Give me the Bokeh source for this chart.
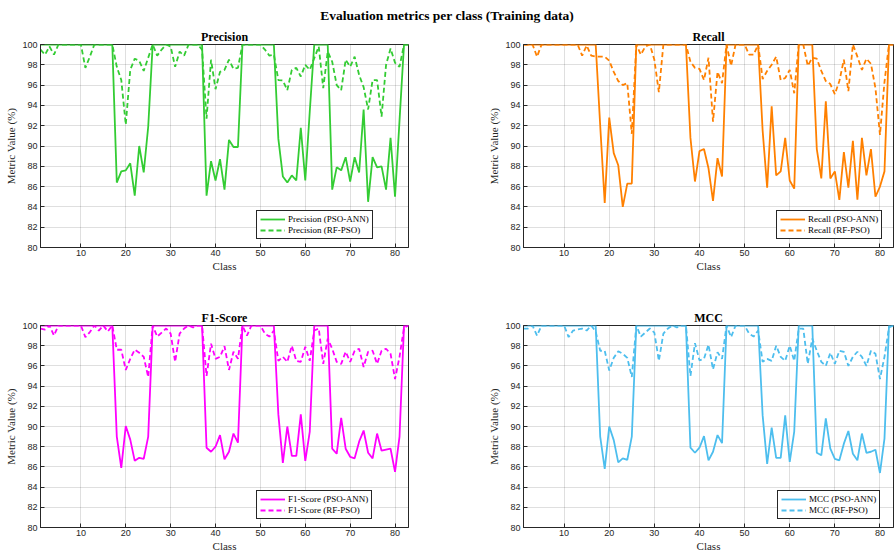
from bokeh.plotting import figure
from bokeh.models import Range1d, FixedTicker, Legend, LegendItem, Div
from bokeh.layouts import column, row
from bokeh.embed import file_html
from bokeh.resources import INLINE

classes = list(range(1, 84))
x_ticks = [10, 20, 30, 40, 50, 60, 70, 80]
y_ticks = [80, 82, 84, 86, 88, 90, 92, 94, 96, 98, 100]

prec_ann = [100]*17 + [86.4, 87.5, 87.6, 88.3, 85.1, 90.0, 87.4, 91.9] + [100]*12 + \
    [85.1, 88.5, 86.6, 88.7, 85.7, 90.6, 89.9, 89.9] + [100]*8 + \
    [90.7, 87.0, 86.4, 87.1, 86.6, 91.8, 86.6, 93.4] + [100]*4 + \
    [85.7, 87.9, 87.6, 88.9, 86.5, 88.9, 87.4, 93.6, 84.5, 88.9, 87.9, 88.0, 85.7, 90.8, 85.0, 92.5] + [100]*2
prec_rf = [99.5, 99.0, 99.8, 99.0, 100, 100, 100, 100, 100, 100, 97.7, 98.8, 100, 100, 100, 100, 100,
    97.8, 96.5, 92.1, 97.5, 98.6, 98.4, 97.4, 98.7, 100,
    98.9, 99.5, 100, 99.8, 97.8, 99.3, 98.9, 100, 100, 100, 99.5,
    92.7, 98.5, 95.6, 97.3, 97.5, 98.5, 97.6, 97.7, 100,
    100, 100, 100, 100, 99.5, 98.9, 99.0,
    96.5, 96.45, 95.5, 97.5, 97.7, 96.85, 98.0, 97.5, 98.65, 99.8, 95.7, 99.3,
    98.3, 96.0, 95.5, 98.5, 97.8, 98.8, 97.0, 95.8, 93.6, 96.5, 96.5, 92.9, 98.0, 99.6, 98.2, 97.8, 100, 100]

rec_ann = [100]*17 + [92.0, 84.4, 92.8, 89.3, 88.1, 84.0, 86.3, 86.3] + [100]*12 + \
    [90.8, 86.5, 89.5, 89.7, 87.8, 84.6, 88.8, 87.0] + [100]*8 + \
    [91.5, 85.9, 93.9, 87.1, 87.5, 90.8, 86.6, 85.8] + [100]*4 + \
    [89.7, 86.8, 94.4, 86.8, 87.5, 84.7, 89.4, 85.9, 90.5, 84.7, 90.8, 87.1, 89.7, 85.0, 86.0, 87.5] + [100]*2
rec_rf = [100, 100, 100, 98.8, 100, 100, 100, 100, 100, 100, 100, 100, 100, 98.9, 99.9, 98.9, 98.8,
    98.8, 98.8, 98.4, 97.3, 96.4, 96.0, 96.2, 91.2, 100,
    99.0, 99.8, 100, 98.5, 95.3, 100, 100, 100, 100, 100, 100,
    98.3, 97.7, 97.6, 96.5, 98.7, 92.4, 97.3, 96.2, 100,
    97.9, 100, 100, 100, 99.0, 99.0, 100,
    96.6, 97.4, 98.0, 98.8, 96.5, 96.7, 97.5, 95.2, 100, 100, 97.9, 98.7,
    98.6, 97.4, 96.4, 96.1, 95.1, 96.4, 98.5, 95.4, 100, 98.8, 97.5, 98.6, 98.1, 95.7, 91.1, 96.3, 100, 100]

f1_ann = [100]*17 + [89.0, 85.9, 90.05, 88.7, 86.6, 86.9, 86.8, 89.0] + [100]*12 + \
    [87.9, 87.5, 88.0, 89.15, 86.75, 87.5, 89.3, 88.4] + [100]*8 + \
    [91.2, 86.4, 90.0, 87.1, 87.1, 91.2, 86.6, 89.5] + [100]*4 + \
    [87.8, 87.3, 90.85, 87.8, 87.0, 86.85, 88.5, 89.6, 87.4, 86.85, 89.3, 87.6, 87.7, 87.8, 85.5, 89.0] + [100]*2
f1_rf = [99.7, 99.6, 100, 99.0, 100, 100, 100, 100, 100, 100, 98.85, 99.35, 100, 99.5, 100, 99.4, 100,
    97.6, 97.6, 95.6, 96.7, 97.6, 97.3, 96.9, 94.9, 100,
    98.9, 99.3, 99.7, 99.2, 96.4, 99.2, 99.7, 100, 99.8, 100, 100,
    95.0, 98.2, 96.7, 96.9, 97.95, 95.6, 97.4, 96.7, 100,
    99.0, 100, 100, 100, 99.2, 98.9, 99.5,
    96.5, 96.9, 96.4, 98.0, 96.5, 96.4, 97.9, 96.5, 99.5, 99.7, 96.2, 98.7,
    97.7, 96.4, 96.2, 97.4, 96.4, 97.5, 97.7, 95.9, 97.4, 97.5, 96.2, 97.5, 97.7, 97.2, 94.7, 96.9, 99.8, 100]

mcc_ann = [100]*17 + [89.0, 85.8, 90.0, 88.65, 86.45, 86.85, 86.7, 89.0] + [100]*12 + \
    [87.9, 87.4, 87.9, 89.05, 86.65, 87.5, 89.15, 88.35] + [100]*8 + \
    [91.1, 86.3, 89.9, 86.9, 86.9, 91.1, 86.5, 89.5] + [100]*4 + \
    [87.4, 87.15, 90.8, 87.8, 86.8, 86.65, 88.3, 89.55, 87.3, 86.65, 89.3, 87.4, 87.5, 87.7, 85.4, 88.8] + [100]*2
mcc_rf = [99.7, 99.7, 100, 99.0, 100, 100, 100, 100, 100, 100, 98.85, 99.5, 99.6, 99.7, 99.5, 100, 99.4,
    97.5, 97.5, 95.55, 96.8, 97.45, 97.2, 96.8, 94.9, 100,
    98.9, 99.3, 99.7, 99.3, 96.5, 99.2, 99.7, 100, 99.8, 100, 100,
    95.0, 98.25, 96.55, 96.7, 98.1, 95.65, 97.35, 96.7, 100,
    98.85, 100, 100, 100, 99.2, 98.9, 99.5,
    96.4, 96.7, 96.5, 98.0, 96.9, 96.5, 98.0, 96.5, 99.7, 99.7, 96.2, 98.7,
    97.5, 96.4, 96.0, 97.3, 96.2, 97.5, 97.4, 96.0, 96.9, 97.4, 96.9, 96.0, 97.5, 97.2, 94.7, 96.9, 99.8, 100]

for arr in (prec_ann, prec_rf, rec_ann, rec_rf, f1_ann, f1_rf, mcc_ann, mcc_rf):
    assert len(arr) == 83, len(arr)

DARK = "#262626"
SERIF = "Liberation Serif"
SANS = "Liberation Sans"


def panel(title, ann, rf, color, name, fw, fh, bl, br, bt, bb, leg_x):
    p = figure(frame_width=fw, frame_height=fh,
               x_range=Range1d(1, 83), y_range=Range1d(80, 100),
               output_backend="svg", toolbar_location=None,
               min_border_left=bl, min_border_right=br,
               min_border_top=bt, min_border_bottom=bb)
    p.title.text = title
    p.title.text_font = SERIF
    p.title.text_font_size = "12px"
    p.title.text_font_style = "bold"
    p.title.text_color = "black"
    p.title.align = "center"
    p.title.standoff = 1
    p.outline_line_color = DARK
    p.outline_line_width = 1
    p.outline_line_alpha = 1
    p.background_fill_color = "white"
    p.border_fill_color = "white"

    p.xaxis.ticker = FixedTicker(ticks=x_ticks)
    p.yaxis.ticker = FixedTicker(ticks=y_ticks)
    p.xgrid.ticker = FixedTicker(ticks=x_ticks)
    p.ygrid.ticker = FixedTicker(ticks=y_ticks)
    p.grid.grid_line_color = DARK
    p.grid.grid_line_alpha = 0.15
    p.xaxis.axis_label = "Class"
    p.yaxis.axis_label = "Metric Value (%)"
    for ax in (p.xaxis[0], p.yaxis[0]):
        ax.major_label_text_font = SANS
        ax.major_label_text_font_size = "9px"
        ax.major_label_text_color = DARK
        ax.axis_label_text_font = SERIF
        ax.axis_label_text_font_size = "11px"
        ax.axis_label_text_font_style = "normal"
        ax.axis_label_text_color = DARK
        ax.major_tick_in = 4
        ax.major_tick_out = 0
        ax.minor_tick_line_color = None
        ax.major_tick_line_color = DARK
        ax.axis_line_color = DARK
        ax.major_label_standoff = 3
        ax.axis_label_standoff = 2
    p.xaxis[0].major_label_standoff = 2
    p.xaxis[0].axis_label_standoff = 1

    r1 = p.line(classes, ann, line_color=color, line_width=1.8)
    r2 = p.line(classes, rf, line_color=color, line_width=1.8, line_dash="5 3")
    legend = Legend(items=[LegendItem(label=f"{name} (PSO-ANN)", renderers=[r1]),
                           LegendItem(label=f"{name} (RF-PSO)", renderers=[r2])],
                    location=(leg_x, 8))
    legend.label_text_font = SERIF
    legend.label_text_font_size = "9px"
    legend.label_text_color = "black"
    legend.label_height = 10
    legend.glyph_height = 10
    legend.glyph_width = 25
    legend.label_standoff = 3
    legend.spacing = 1
    legend.padding = 3
    legend.margin = 0
    legend.border_line_color = DARK
    legend.border_line_width = 1
    legend.border_line_alpha = 1
    legend.background_fill_color = "white"
    legend.background_fill_alpha = 1
    p.add_layout(legend)
    return p


p1 = panel("Precision", prec_ann, prec_rf, "#33CC33", "Precision", 368, 203, 40, 75, 22, 30, 216)
p2 = panel("Recall", rec_ann, rec_rf, "#FF8000", "Recall", 370, 203, 40, 1, 22, 30, 253)
p3 = panel("F1-Score", f1_ann, f1_rf, "#FF00FF", "F1-Score", 368, 202, 40, 75, 48, 27, 216)
p4 = panel("MCC", mcc_ann, mcc_rf, "#4DBEEE", "MCC", 370, 202, 40, 1, 48, 27, 254)

title_div = Div(text='<div style="font-family:\'Liberation Serif\';font-weight:bold;font-size:13.5px;'
                     'text-align:center;line-height:15px;padding-top:8px;color:black;width:894px;">'
                     'Evaluation metrics per class (Training data)</div>',
                width=894, height=22, margin=(0, 0, 0, 0))

layout = column(title_div, row(p1, p2), row(p3, p4))

open("out.html", "w").write(file_html(layout, INLINE))
